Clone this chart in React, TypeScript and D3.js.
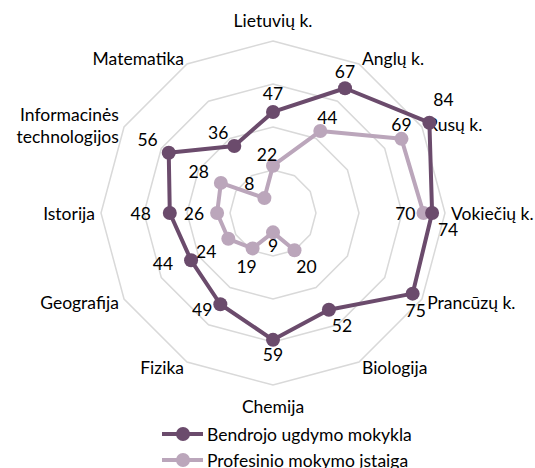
import React, { useEffect, useRef } from 'react';
import * as d3 from 'd3';

const categories = [
  'Lietuvių k.', 'Anglų k.', 'Rusų k.', 'Vokiečių k.', 'Prancūzų k.', 'Biologija',
  'Chemija', 'Fizika', 'Geografija', 'Istorija', 'Informacinės technologijos', 'Matematika',
];
const bendrojo = [47, 67, 84, 74, 75, 52, 59, 49, 44, 48, 56, 36];
const profesinio: (number | null)[] = [22, 44, 69, 70, null, 20, 9, 19, 24, 26, 28, 8];
const seriesNames = ['Bendrojo ugdymo mokykla', 'Profesinio mokymo įstaiga'];
const ringValues = [20, 40, 60, 80];

// label placement (dx, dy, anchor) relative to each point
const darkLabelPos: [number, number, string][] = [
  [0, -18, 'middle'], [0, -17, 'middle'], [14, -23, 'middle'], [16, 16, 'middle'],
  [3, 17, 'middle'], [13, 16, 'middle'], [0, 15, 'middle'], [-8, 5, 'end'],
  [-18, 3, 'end'], [-19, 0, 'end'], [-11, -13, 'end'], [-6, -13, 'end'],
];
const lightLabelPos: [number, number, string][] = [
  [-6, -11, 'middle'], [7, -14, 'middle'], [0, -14, 'middle'], [-8, 0, 'end'],
  [0, 0, 'middle'], [12, 16, 'middle'], [0, 13, 'middle'], [-6, 18, 'middle'],
  [-12, 13, 'end'], [-13, 0, 'end'], [-12, -11, 'end'], [-10, -15, 'end'],
];

const W = 535;
const H = 468;
const cx = 273;
const cy = 213;
const dark = '#6b4b6c';
const light = '#bba6bb';
const font = 'Lato, "Open Sans", sans-serif';
const fs = 17.5;

function App() {
  const ref = useRef<SVGSVGElement>(null);

  useEffect(() => {
    const svg = d3.select(ref.current);
    svg.selectAll('*').remove();

    const r = d3.scaleLinear().domain([0, 80]).range([0, 172]);
    const n = categories.length;
    const ang = (i: number) => (i / n) * 2 * Math.PI;
    const pt = (i: number, v: number): [number, number] => [
      cx + r(v) * Math.sin(ang(i)),
      cy - r(v) * Math.cos(ang(i)),
    ];

    // grid rings
    ringValues.forEach((rv) => {
      svg.append('path')
        .attr('d', d3.line().curve(d3.curveLinearClosed)(categories.map((_, i) => pt(i, rv))))
        .attr('fill', 'none')
        .attr('stroke', '#d9d9d9')
        .attr('stroke-width', 1.5);
    });

    // category labels
    categories.forEach((c, i) => {
      const s = Math.sin(ang(i));
      const co = Math.cos(ang(i));
      const vertical = Math.abs(s) < 0.01;
      const rr = vertical ? 193 : 178;
      const x = cx + rr * s;
      const y = cy - rr * co;
      const anchor = vertical ? 'middle' : s > 0 ? 'start' : 'end';
      const t = svg.append('text')
        .attr('x', x)
        .attr('y', y)
        .attr('text-anchor', anchor)
        .attr('dominant-baseline', 'central')
        .attr('font-family', font)
        .attr('font-size', fs)
        .attr('fill', '#000');
      if (c === 'Informacinės technologijos') {
        t.append('tspan').attr('x', x).attr('dy', '-0.6em').text('Informacinės');
        t.append('tspan').attr('x', x).attr('dy', '1.3em').text('technologijos');
      } else {
        t.text(c);
      }
    });

    const drawSeries = (vals: (number | null)[], color: string, pos: [number, number, string][]) => {
      const hasGap = vals.some((v) => v == null);
      let order = d3.range(n);
      if (hasGap) {
        const start = (vals.findIndex((v) => v == null) + 1) % n;
        order = d3.range(n).map((k) => (start + k) % n);
      }
      const line = d3.line<number>()
        .defined((i) => vals[i] != null)
        .x((i) => pt(i, vals[i] as number)[0])
        .y((i) => pt(i, vals[i] as number)[1])
        .curve(hasGap ? d3.curveLinear : d3.curveLinearClosed);
      svg.append('path')
        .attr('d', line(order))
        .attr('fill', 'none')
        .attr('stroke', color)
        .attr('stroke-width', 4)
        .attr('stroke-linejoin', 'round');

      vals.forEach((v, i) => {
        if (v == null) return;
        const [x, y] = pt(i, v);
        svg.append('circle').attr('cx', x).attr('cy', y).attr('r', 7).attr('fill', color);
      });
      vals.forEach((v, i) => {
        if (v == null) return;
        const [x, y] = pt(i, v);
        const [dx, dy, anchor] = pos[i];
        svg.append('text')
          .attr('x', x + dx)
          .attr('y', y + dy)
          .attr('text-anchor', anchor)
          .attr('dominant-baseline', 'central')
          .attr('font-family', font)
          .attr('font-size', fs)
          .attr('fill', '#000')
          .text(v);
      });
    };

    drawSeries(profesinio, light, lightLabelPos);
    drawSeries(bendrojo, dark, darkLabelPos);

    // legend
    [dark, light].forEach((color, k) => {
      const y = 434 + k * 26;
      svg.append('line')
        .attr('x1', 162).attr('x2', 203).attr('y1', y).attr('y2', y)
        .attr('stroke', color).attr('stroke-width', 4);
      svg.append('circle').attr('cx', 183).attr('cy', y).attr('r', 7).attr('fill', color);
      svg.append('text')
        .attr('x', 207)
        .attr('y', y)
        .attr('dominant-baseline', 'central')
        .attr('font-family', font)
        .attr('font-size', fs)
        .attr('fill', '#000')
        .text(seriesNames[k]);
    });
  }, []);

  return (
    <svg
      ref={ref}
      width={W}
      height={H}
      style={{ position: 'absolute', left: 0, top: 0, background: '#fff' }}
    />
  );
}

export default App;
